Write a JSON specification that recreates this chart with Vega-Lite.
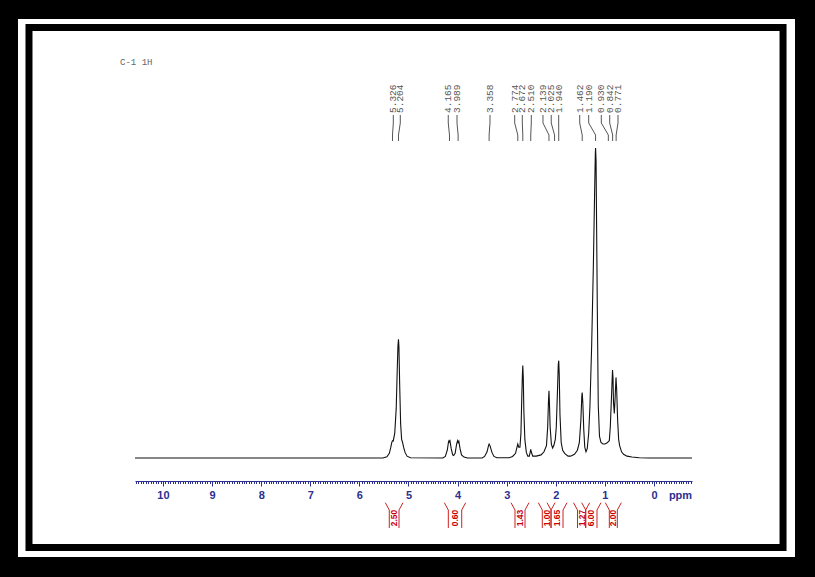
{
  "$schema": "https://vega.github.io/schema/vega-lite/v6.json",
  "width": 557,
  "height": 333,
  "autosize": {"type": "none"},
  "padding": {"left": 135, "top": 148, "right": 123, "bottom": 96},
  "background": "black",
  "config": {
    "view": {"stroke": null},
    "axisX": {
      "domainColor": "#2b2f8f",
      "domainWidth": 1,
      "tickColor": "#2b2f8f",
      "tickWidth": 1,
      "labelColor": "#2b2f8f",
      "labelFont": "Liberation Sans",
      "labelFontWeight": "bold",
      "labelFontSize": 11,
      "labelPadding": 3,
      "labelOverlap": false,
      "labelFlush": false,
      "titleColor": "#2b2f8f",
      "titleFont": "Liberation Sans",
      "titleFontWeight": "bold",
      "titleFontSize": 11,
      "grid": false
    }
  },
  "datasets": {
    "spectrum": [
      {"ppm": 10.57, "i": 0}, {"ppm": 5.52, "i": 0}, {"ppm": 5.44, "i": 0.4}, {"ppm": 5.39, "i": 1.5},
      {"ppm": 5.36, "i": 3.5}, {"ppm": 5.34, "i": 5}, {"ppm": 5.325, "i": 5.6}, {"ppm": 5.31, "i": 5.5},
      {"ppm": 5.28, "i": 8}, {"ppm": 5.25, "i": 16}, {"ppm": 5.23, "i": 28}, {"ppm": 5.215, "i": 36},
      {"ppm": 5.204, "i": 38.3}, {"ppm": 5.195, "i": 36}, {"ppm": 5.18, "i": 24}, {"ppm": 5.16, "i": 11},
      {"ppm": 5.14, "i": 6}, {"ppm": 5.12, "i": 5}, {"ppm": 5.1, "i": 3.5}, {"ppm": 5.07, "i": 1.8},
      {"ppm": 5.03, "i": 0.6}, {"ppm": 4.96, "i": 0.1}, {"ppm": 4.3, "i": 0}, {"ppm": 4.25, "i": 0.5},
      {"ppm": 4.21, "i": 2.5}, {"ppm": 4.185, "i": 5.2}, {"ppm": 4.175, "i": 5.6}, {"ppm": 4.165, "i": 5.2},
      {"ppm": 4.155, "i": 5.5}, {"ppm": 4.13, "i": 3}, {"ppm": 4.1, "i": 1}, {"ppm": 4.08, "i": 0.8},
      {"ppm": 4.05, "i": 1.5}, {"ppm": 4.02, "i": 4.5}, {"ppm": 4.0, "i": 5.6}, {"ppm": 3.989, "i": 5.0},
      {"ppm": 3.975, "i": 5.4}, {"ppm": 3.95, "i": 3}, {"ppm": 3.92, "i": 1}, {"ppm": 3.87, "i": 0.3},
      {"ppm": 3.8, "i": 0}, {"ppm": 3.5, "i": 0}, {"ppm": 3.45, "i": 0.5}, {"ppm": 3.4, "i": 2},
      {"ppm": 3.37, "i": 4}, {"ppm": 3.358, "i": 4.5}, {"ppm": 3.34, "i": 4}, {"ppm": 3.3, "i": 1.8},
      {"ppm": 3.26, "i": 0.5}, {"ppm": 3.2, "i": 0.1}, {"ppm": 2.95, "i": 0.1}, {"ppm": 2.88, "i": 0.5},
      {"ppm": 2.82, "i": 1.5}, {"ppm": 2.79, "i": 3.5}, {"ppm": 2.774, "i": 4.5}, {"ppm": 2.755, "i": 3.5},
      {"ppm": 2.73, "i": 3.5}, {"ppm": 2.71, "i": 8}, {"ppm": 2.695, "i": 18}, {"ppm": 2.68, "i": 27},
      {"ppm": 2.672, "i": 29.8}, {"ppm": 2.662, "i": 26}, {"ppm": 2.65, "i": 15}, {"ppm": 2.63, "i": 6},
      {"ppm": 2.6, "i": 1.8}, {"ppm": 2.57, "i": 0.6}, {"ppm": 2.54, "i": 0.6}, {"ppm": 2.52, "i": 2},
      {"ppm": 2.51, "i": 2.8}, {"ppm": 2.5, "i": 2}, {"ppm": 2.47, "i": 0.6}, {"ppm": 2.4, "i": 0.6},
      {"ppm": 2.3, "i": 1}, {"ppm": 2.24, "i": 2}, {"ppm": 2.19, "i": 4}, {"ppm": 2.165, "i": 10},
      {"ppm": 2.15, "i": 18}, {"ppm": 2.139, "i": 21.7}, {"ppm": 2.13, "i": 18}, {"ppm": 2.115, "i": 10},
      {"ppm": 2.09, "i": 4.5}, {"ppm": 2.065, "i": 3.2}, {"ppm": 2.04, "i": 4}, {"ppm": 2.025, "i": 5},
      {"ppm": 2.01, "i": 6}, {"ppm": 1.99, "i": 10}, {"ppm": 1.965, "i": 22}, {"ppm": 1.95, "i": 30},
      {"ppm": 1.94, "i": 31.4}, {"ppm": 1.93, "i": 27}, {"ppm": 1.915, "i": 14}, {"ppm": 1.89, "i": 5},
      {"ppm": 1.86, "i": 2.5}, {"ppm": 1.82, "i": 1.5}, {"ppm": 1.75, "i": 0.6}, {"ppm": 1.7, "i": 0.6},
      {"ppm": 1.62, "i": 1.2}, {"ppm": 1.56, "i": 2.5}, {"ppm": 1.52, "i": 5}, {"ppm": 1.49, "i": 12},
      {"ppm": 1.47, "i": 20}, {"ppm": 1.462, "i": 21.1}, {"ppm": 1.45, "i": 18}, {"ppm": 1.43, "i": 9},
      {"ppm": 1.41, "i": 3.5}, {"ppm": 1.385, "i": 2}, {"ppm": 1.36, "i": 3}, {"ppm": 1.33, "i": 8},
      {"ppm": 1.305, "i": 16.5}, {"ppm": 1.27, "i": 36}, {"ppm": 1.235, "i": 62}, {"ppm": 1.21, "i": 85},
      {"ppm": 1.195, "i": 98}, {"ppm": 1.19, "i": 100}, {"ppm": 1.18, "i": 96}, {"ppm": 1.155, "i": 49},
      {"ppm": 1.135, "i": 17}, {"ppm": 1.11, "i": 7}, {"ppm": 1.08, "i": 5}, {"ppm": 1.04, "i": 4.5},
      {"ppm": 1.0, "i": 4.5}, {"ppm": 0.96, "i": 4.8}, {"ppm": 0.93, "i": 5.3}, {"ppm": 0.91, "i": 5.6},
      {"ppm": 0.89, "i": 10}, {"ppm": 0.865, "i": 20}, {"ppm": 0.845, "i": 28.4}, {"ppm": 0.835, "i": 26},
      {"ppm": 0.825, "i": 18}, {"ppm": 0.808, "i": 14.4}, {"ppm": 0.79, "i": 20}, {"ppm": 0.774, "i": 26},
      {"ppm": 0.76, "i": 22}, {"ppm": 0.74, "i": 12}, {"ppm": 0.72, "i": 6}, {"ppm": 0.7, "i": 4},
      {"ppm": 0.66, "i": 2}, {"ppm": 0.62, "i": 1.2}, {"ppm": 0.55, "i": 0.6}, {"ppm": 0.45, "i": 0.3},
      {"ppm": 0.3, "i": 0.1}, {"ppm": 0.1, "i": 0}, {"ppm": -0.774, "i": 0}
    ],
    "peaks": [
      {"shift": 5.326, "lab": 5.309, "text": "5.326"},
      {"shift": 5.204, "lab": 5.167, "text": "5.204"},
      {"shift": 4.165, "lab": 4.19, "text": "4.165"},
      {"shift": 3.989, "lab": 4.012, "text": "3.989"},
      {"shift": 3.358, "lab": 3.34, "text": "3.358"},
      {"shift": 2.774, "lab": 2.837, "text": "2.774"},
      {"shift": 2.672, "lab": 2.682, "text": "2.672"},
      {"shift": 2.51, "lab": 2.499, "text": "2.510"},
      {"shift": 2.139, "lab": 2.261, "text": "2.139"},
      {"shift": 2.025, "lab": 2.093, "text": "2.025"},
      {"shift": 1.94, "lab": 1.941, "text": "1.940"},
      {"shift": 1.462, "lab": 1.513, "text": "1.462"},
      {"shift": 1.19, "lab": 1.33, "text": "1.190"},
      {"shift": 0.93, "lab": 1.073, "text": "0.930"},
      {"shift": 0.842, "lab": 0.902, "text": "0.842"},
      {"shift": 0.771, "lab": 0.733, "text": "0.771"}
    ],
    "integrals": [
      {"hi": 5.391, "lo": 5.193, "mid": 5.292, "text": "2.50"},
      {"hi": 4.189, "lo": 3.916, "mid": 4.052, "text": "0.60"},
      {"hi": 2.831, "lo": 2.627, "mid": 2.729, "text": "1.43"},
      {"hi": 2.275, "lo": 2.097, "mid": 2.186, "text": "1.00"},
      {"hi": 2.097, "lo": 1.853, "mid": 1.975, "text": "1.65"},
      {"hi": 1.558, "lo": 1.391, "mid": 1.474, "text": "1.27"},
      {"hi": 1.391, "lo": 1.161, "mid": 1.276, "text": "6.00"},
      {"hi": 0.91, "lo": 0.747, "mid": 0.828, "text": "2.00"}
    ]
  },
  "layer": [
    {
      "data": {"values": [{}]},
      "mark": {"type": "rect", "fill": "white"},
      "encoding": {
        "x": {"datum": 12.953, "type": "quantitative", "scale": {"domain": [-0.774, 10.57], "reverse": true, "nice": false, "zero": false},
              "axis": {"zindex": 1, "title": "ppm", "titleAngle": 0, "titleX": 545, "titleY": 14, "titleAlign": "center", "titleBaseline": "middle",
                       "tickCount": 230,
                       "tickSize": {"condition": {"test": "abs(datum.value - round(datum.value)) < 0.001", "value": 5}, "value": 2.5},
                       "labelExpr": "abs(datum.value - round(datum.value)) < 0.001 ? format(round(datum.value), 'd') : ''"}},
        "x2": {"datum": -2.872},
        "y": {"datum": 141.61, "type": "quantitative", "scale": {"domain": [-7.42, 100], "nice": false, "zero": false}, "axis": null},
        "y2": {"datum": -31.94}
      }
    },
    {
      "data": {"values": [{}]},
      "mark": {"type": "rect", "fill": null, "stroke": "black", "strokeWidth": 7},
      "encoding": {
        "x": {"datum": 12.729, "type": "quantitative"},
        "x2": {"datum": -2.628},
        "y": {"datum": 138.87, "type": "quantitative", "axis": null},
        "y2": {"datum": -28.87}
      }
    },
    {
      "data": {"name": "spectrum"},
      "mark": {"type": "line", "color": "#111111", "strokeWidth": 1.1},
      "encoding": {
        "x": {"field": "ppm", "type": "quantitative", "sort": null},
        "y": {"field": "i", "type": "quantitative", "axis": null},
        "order": {"field": "ppm", "sort": "descending"}
      }
    },
    {
      "data": {"values": [{"t": "C-1 1H"}]},
      "mark": {"type": "text", "align": "left", "baseline": "middle", "font": "Liberation Mono", "fontSize": 9, "color": "#666666"},
      "encoding": {
        "x": {"datum": 10.875, "type": "quantitative"},
        "y": {"datum": 127.74, "type": "quantitative", "axis": null},
        "text": {"field": "t"}
      }
    },
    {
      "data": {"name": "peaks"},
      "mark": {"type": "text", "angle": 270, "align": "left", "baseline": "middle", "font": "Liberation Mono", "fontSize": 9.5, "color": "#555555"},
      "encoding": {
        "x": {"field": "lab", "type": "quantitative"},
        "y": {"datum": 111.29, "type": "quantitative", "axis": null},
        "text": {"field": "text"}
      }
    },
    {
      "data": {"name": "peaks"},
      "mark": {"type": "rule", "color": "#555555", "strokeWidth": 1},
      "encoding": {
        "x": {"field": "lab", "type": "quantitative"},
        "y": {"datum": 110.65, "type": "quantitative", "axis": null},
        "y2": {"datum": 108.06}
      }
    },
    {
      "data": {"name": "peaks"},
      "mark": {"type": "rule", "color": "#555555", "strokeWidth": 1},
      "encoding": {
        "x": {"field": "lab", "type": "quantitative"},
        "x2": {"field": "shift"},
        "y": {"datum": 108.06, "type": "quantitative", "axis": null},
        "y2": {"datum": 104.19}
      }
    },
    {
      "data": {"name": "peaks"},
      "mark": {"type": "rule", "color": "#555555", "strokeWidth": 1},
      "encoding": {
        "x": {"field": "shift", "type": "quantitative"},
        "y": {"datum": 104.19, "type": "quantitative", "axis": null},
        "y2": {"datum": 102.26}
      }
    },
    {
      "data": {"name": "integrals"},
      "mark": {"type": "rule", "color": "#cc2222", "strokeWidth": 1},
      "encoding": {
        "x": {"field": "hi", "type": "quantitative"},
        "y": {"datum": -16.77, "type": "quantitative", "axis": null},
        "y2": {"datum": -22.58}
      }
    },
    {
      "data": {"name": "integrals"},
      "mark": {"type": "rule", "color": "#cc2222", "strokeWidth": 1},
      "encoding": {
        "x": {"field": "lo", "type": "quantitative"},
        "y": {"datum": -16.77, "type": "quantitative", "axis": null},
        "y2": {"datum": -22.58}
      }
    },
    {
      "data": {"name": "integrals"},
      "mark": {"type": "rule", "color": "#cc2222", "strokeWidth": 1, "x2Offset": -4},
      "encoding": {
        "x": {"field": "hi", "type": "quantitative"},
        "x2": {"field": "hi"},
        "y": {"datum": -16.77, "type": "quantitative", "axis": null},
        "y2": {"datum": -14.42}
      }
    },
    {
      "data": {"name": "integrals"},
      "mark": {"type": "rule", "color": "#cc2222", "strokeWidth": 1, "x2Offset": 4},
      "encoding": {
        "x": {"field": "lo", "type": "quantitative"},
        "x2": {"field": "lo"},
        "y": {"datum": -16.77, "type": "quantitative", "axis": null},
        "y2": {"datum": -14.42}
      }
    },
    {
      "data": {"name": "integrals"},
      "mark": {"type": "text", "angle": 270, "align": "center", "baseline": "middle", "font": "Liberation Sans", "fontSize": 8.5, "fontWeight": "bold", "color": "#cc0000"},
      "encoding": {
        "x": {"field": "mid", "type": "quantitative"},
        "y": {"datum": -19.35, "type": "quantitative", "axis": null},
        "text": {"field": "text"}
      }
    }
  ]
}
